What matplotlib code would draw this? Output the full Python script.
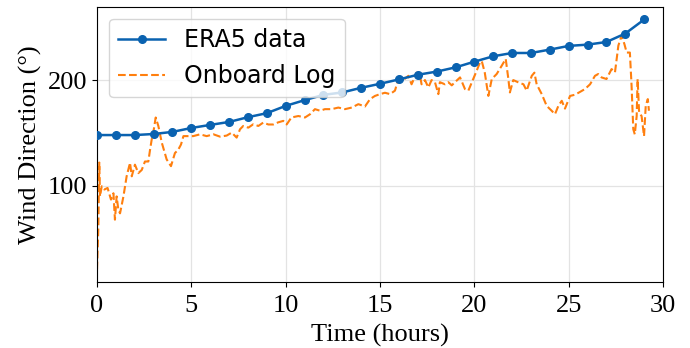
#import relevant libaries
import numpy as np
import matplotlib
matplotlib.use('Agg')
import matplotlib.pyplot as plt

#ERA5 hourly wind direction
era5_hours = list(range(30))
era5_dir = [148, 148, 148, 149, 151, 154.7, 157.6, 160.4, 164.9, 168.7,
            175.6, 181, 186, 188.3, 192.7, 196.5, 200.6, 205, 208, 212,
            217.4, 222.5, 225.6, 225.6, 228.8, 232.3, 233.5, 236, 244, 257.3]

#onboard log
log_hours = [0.0, 0.07, 0.12, 0.16, 0.25, 0.39, 0.56, 0.74, 0.87, 0.95, 1.04, 1.13, 1.22,
             1.4, 1.57, 1.75, 1.84, 2.01, 2.19, 2.37, 2.54, 2.72, 2.81, 2.9, 2.98, 3.11,
             3.25, 3.43, 3.69, 3.92, 4.13, 4.3, 4.45, 4.58, 4.83, 5.1, 5.46, 5.81, 6.17,
             6.52, 6.87, 7.14, 7.4, 7.58, 7.75, 8.02, 8.28, 8.55, 8.81, 9.08, 9.34, 9.6,
             9.87, 10.05, 10.3, 10.67, 11.02, 11.29, 11.55, 11.82, 12.08, 12.44, 12.79,
             13.14, 13.5, 13.85, 14.2, 14.47, 14.73, 15.0, 15.26, 15.53, 15.79, 15.97,
             16.23, 16.5, 16.67, 16.94, 17.12, 17.2, 17.38, 17.56, 17.73, 17.91, 18.09,
             18.17, 18.44, 18.62, 18.8, 18.97, 19.24, 19.5, 19.68, 19.94, 20.12, 20.3,
             20.39, 20.55, 20.74, 20.92, 21.18, 21.45, 21.66, 21.8, 21.88, 22.06, 22.33,
             22.6, 22.77, 23.04, 23.18, 23.3, 23.57, 23.83, 24.1, 24.27, 24.45, 24.63,
             24.8, 25.07, 25.3, 25.5, 25.86, 26.13, 26.39, 26.56, 26.74, 27.0, 27.27,
             27.45, 27.63, 27.8, 27.95, 28.07, 28.24, 28.33, 28.42, 28.5, 28.6, 28.65,
             28.73, 28.86, 28.99, 29.08, 29.19, 29.25]
log_dir = [21, 60, 122, 90, 99.6, 96.5, 98, 87, 93, 68, 90, 77.5, 74,
           90, 109, 121.8, 109, 120, 112, 115, 123, 123, 134, 144, 150, 164.6,
           156.6, 141, 125, 118.6, 131, 134, 139, 147, 147, 147, 148.7, 147, 148.7,
           146.5, 147.5, 150.3, 145.6, 153.5, 156.6, 155, 158.2, 156.6, 159.8, 158, 158, 160,
           161.4, 158, 164.6, 166, 164.6, 167.7, 172.5, 171, 172.5, 172.5, 174,
           172.5, 174, 177.2, 175, 182, 185, 186.7, 188, 186.7, 190, 201,
           200, 204, 196, 207, 204, 196, 200, 193, 200, 198, 186.7,
           198, 196, 198, 195, 198, 202.5, 191.5, 190, 201, 208.8, 216.8,
           218, 207, 185, 201, 205.7, 213.6, 220, 201, 188.3, 200, 197.8,
           196, 190, 204, 207, 196, 186.7, 175.6, 170.9, 167.7, 175.6, 180.4,
           173, 185, 186, 187.8, 191.5, 196, 204, 205.7, 202.5, 201, 210.4,
           207.3, 232.6, 242, 234, 226, 226, 194.6, 153.5, 148.7, 166, 201,
           169, 166, 147, 175.6, 182, 171]

plt.rcParams['font.family'] = ['Liberation Serif', 'DejaVu Serif']

fig = plt.figure(figsize=(6.9, 3.48), dpi=100)
ax = fig.add_axes([0.1406, 0.19, 0.8204, 0.79])

ax.plot(era5_hours, era5_dir, color='#0a62b0', marker='o', markersize=5.5,
        linewidth=1.8, label='ERA5 data', zorder=3)
ax.plot(log_hours, log_dir, color='#ff7f0e', linestyle='--', linewidth=1.5,
        label='Onboard Log', zorder=2)

ax.set_xlim(0, 30)
ax.set_xticks([0, 5, 10, 15, 20, 25, 30])
ax.set_yticks([100, 200])
ax.tick_params(labelsize=19)
ax.tick_params(axis='x', pad=6)
ax.grid(True, color='#e3e3e3', linewidth=0.9)
ax.set_axisbelow(True)
ax.set_xlabel('Time (hours)', fontsize=19, labelpad=5)
ax.set_ylabel('Wind Direction (°)', fontsize=19, labelpad=4)

leg = ax.legend(loc='upper left', prop={'family': 'DejaVu Sans', 'size': 17},
                handlelength=2.0, borderaxespad=0.5)

fig.savefig('out.png', dpi=100)
